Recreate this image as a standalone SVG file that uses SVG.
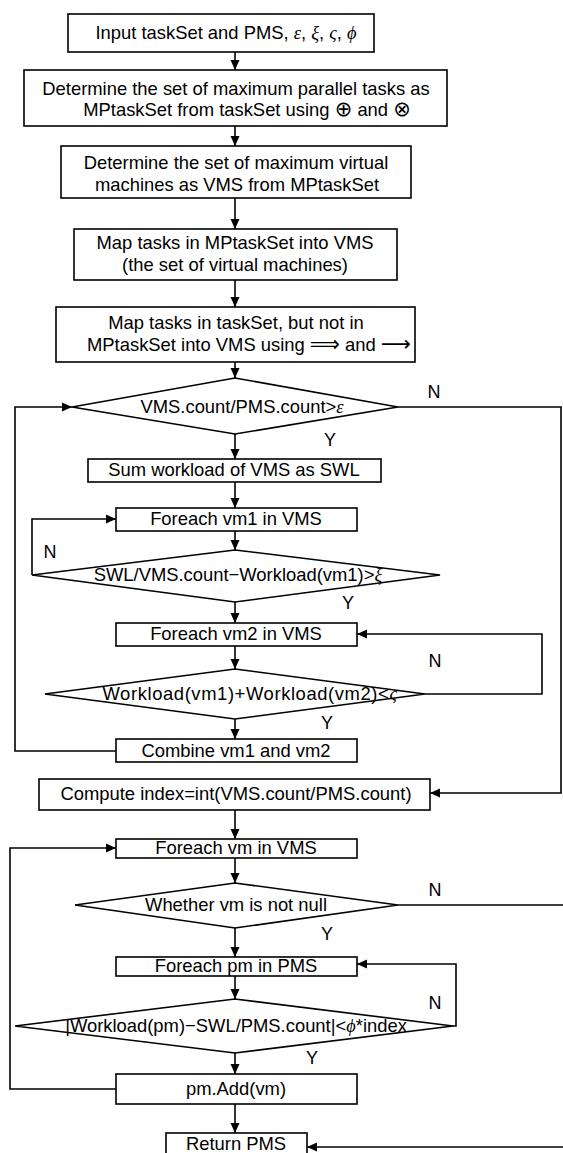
<svg xmlns="http://www.w3.org/2000/svg" width="563" height="1153" viewBox="0 0 563 1153">
  <style>
    .box { fill: #fff; stroke: #000; stroke-width: 1.6; }
    .t { font-family: "Liberation Sans", "DejaVu Sans", Arial, sans-serif; font-size: 18.4px; fill: #000; text-anchor: middle; }
    .g { font-family: "Liberation Serif", "DejaVu Serif", serif; font-style: italic; }
    .sym { font-family: "DejaVu Sans", sans-serif; font-size: 21px; }
    .lbl { font-family: "Liberation Sans", Arial, sans-serif; font-size: 18px; fill: #000; text-anchor: middle; }
    .c { fill: none; stroke: #000; stroke-width: 1.6; }
  </style>
  <defs>
    <marker id="ah" markerUnits="userSpaceOnUse" markerWidth="10" markerHeight="10" refX="10" refY="5" orient="auto">
      <path d="M0,0.5 L10,5 L0,9.5 z" fill="#000"/>
    </marker>
  </defs>
  <rect width="563" height="1153" fill="#fff"/>

  <!-- connectors -->
  <g id="connectors" class="c" marker-end="url(#ah)">
    <line x1="235" y1="52" x2="235" y2="70"/>
    <line x1="235" y1="126" x2="235" y2="146"/>
    <line x1="235" y1="198" x2="235" y2="229"/>
    <line x1="235" y1="280" x2="235" y2="307"/>
    <line x1="235" y1="362" x2="235" y2="378"/>
    <line x1="235" y1="434" x2="235" y2="459"/>
    <line x1="235" y1="482" x2="235" y2="508"/>
    <line x1="235" y1="531" x2="235" y2="550"/>
    <line x1="235" y1="602" x2="235" y2="623"/>
    <line x1="235" y1="646" x2="235" y2="669"/>
    <line x1="235" y1="719" x2="235" y2="739"/>
    <line x1="235" y1="810" x2="235" y2="839"/>
    <line x1="235" y1="858" x2="235" y2="883"/>
    <line x1="235" y1="928" x2="235" y2="957"/>
    <line x1="235" y1="976" x2="235" y2="999"/>
    <line x1="235" y1="1053" x2="235" y2="1074"/>
    <line x1="235" y1="1104" x2="235" y2="1133"/>
    <!-- loop back from combine step to first decision -->
    <polyline points="116,751 15,751 15,407 72,407"/>
    <!-- first decision N: jump to index computation -->
    <polyline points="398,407 561,407 561,793 430,793"/>
    <!-- vm1 loop -->
    <polyline points="32,575 32,519 116,519"/>
    <!-- vm2 loop -->
    <polyline points="425,694 542,694 542,634 357,634"/>
    <!-- vm loop -->
    <polyline points="116,1089 10,1089 10,848 116,848"/>
    <!-- pm loop -->
    <polyline points="453,1026 456,1026 456,964 357,964"/>
    <!-- vm null: return -->
    <line x1="398" y1="905" x2="563" y2="905" marker-end="none"/>
    <line x1="563" y1="1147" x2="307" y2="1147"/>
  </g>

  <g id="n-input">
    <rect class="box" x="68" y="14" width="306" height="38"/>
    <text class="t" x="226" y="39">Input taskSet and PMS, <tspan class="g">ε</tspan>, <tspan class="g">ξ</tspan>, <tspan class="g">ς</tspan>, <tspan class="g">ϕ</tspan></text>
  </g>
  <g id="n-mptask">
    <rect class="box" x="24" y="70" width="423" height="56"/>
    <text class="t" x="236" y="95">Determine the set of maximum parallel tasks as</text>
    <text class="t" x="247" y="116">MPtaskSet from taskSet using <tspan class="sym">⊕</tspan> and <tspan class="sym">⊗</tspan></text>
  </g>
  <g id="n-vms">
    <rect class="box" x="61" y="146" width="350" height="52"/>
    <text class="t" x="236" y="169">Determine the set of maximum virtual</text>
    <text class="t" x="237" y="191">machines as VMS from MPtaskSet</text>
  </g>
  <g id="n-map1">
    <rect class="box" x="74" y="229" width="323" height="51"/>
    <text class="t" x="235" y="249">Map tasks in MPtaskSet into VMS</text>
    <text class="t" x="235" y="271">(the set of virtual machines)</text>
  </g>
  <g id="n-map2">
    <rect class="box" x="56" y="307" width="359" height="55"/>
    <text class="t" x="236" y="329">Map tasks in taskSet, but not in</text>
    <text class="t" x="249" y="351">MPtaskSet into VMS using <tspan class="sym">⟹</tspan> and <tspan class="sym">⟶</tspan></text>
  </g>
  <g id="d-ratio">
    <polygon class="box" points="235,378 398,407 235,434 72,407"/>
    <text class="t" x="242" y="413">VMS.count/PMS.count&gt;<tspan class="g">ε</tspan></text>
    <text class="lbl" x="434" y="398">N</text>
    <text class="lbl" x="330" y="446">Y</text>
  </g>
  <g id="n-sum">
    <rect class="box" x="88" y="459" width="293" height="23"/>
    <text class="t" x="234" y="476">Sum workload of VMS as SWL</text>
  </g>
  <g id="n-vm1">
    <rect class="box" x="116" y="508" width="241" height="23"/>
    <text class="t" x="236" y="525">Foreach vm1 in VMS</text>
  </g>
  <g id="d-vm1">
    <polygon class="box" points="235,550 440,575 235,602 32,575"/>
    <text class="t" x="238" y="581">SWL/VMS.count−Workload(vm1)&gt;<tspan class="g">ξ</tspan></text>
    <text class="lbl" x="50" y="558">N</text>
    <text class="lbl" x="348" y="609">Y</text>
  </g>
  <g id="n-vm2">
    <rect class="box" x="116" y="623" width="241" height="23"/>
    <text class="t" x="236" y="640">Foreach vm2 in VMS</text>
  </g>
  <g id="d-vm2">
    <polygon class="box" points="235,669 425,694 235,719 45,694"/>
    <text class="t" x="250" y="700" letter-spacing="0.6">Workload(vm1)+Workload(vm2)&lt;<tspan class="g">ς</tspan></text>
    <text class="lbl" x="435" y="667">N</text>
    <text class="lbl" x="327" y="729">Y</text>
  </g>
  <g id="n-combine">
    <rect class="box" x="116" y="739" width="241" height="23"/>
    <text class="t" x="236" y="757">Combine vm1 and vm2</text>
  </g>
  <g id="n-index">
    <rect class="box" x="39" y="779" width="391" height="31"/>
    <text class="t" x="236" y="800">Compute index=int(VMS.count/PMS.count)</text>
  </g>
  <g id="n-vm">
    <rect class="box" x="116" y="839" width="241" height="19"/>
    <text class="t" x="236" y="854">Foreach vm in VMS</text>
  </g>
  <g id="d-null">
    <polygon class="box" points="235,883 398,905 235,928 75,905"/>
    <text class="t" x="236" y="911">Whether vm is not null</text>
    <text class="lbl" x="435" y="896">N</text>
    <text class="lbl" x="327" y="940">Y</text>
  </g>
  <g id="n-pm">
    <rect class="box" x="116" y="957" width="241" height="19"/>
    <text class="t" x="236" y="972">Foreach pm in PMS</text>
  </g>
  <g id="d-pm">
    <polygon class="box" points="235,999 453,1026 235,1053 15,1026"/>
    <text class="t" x="236" y="1032">|Workload(pm)−SWL/PMS.count|&lt;<tspan class="g">ϕ</tspan>*index</text>
    <text class="lbl" x="435" y="1009">N</text>
    <text class="lbl" x="312" y="1064">Y</text>
  </g>
  <g id="n-add">
    <rect class="box" x="116" y="1074" width="241" height="30"/>
    <text class="t" x="236" y="1095">pm.Add(vm)</text>
  </g>
  <g id="n-return">
    <rect class="box" x="166" y="1133" width="141" height="30"/>
    <text class="t" x="236" y="1150">Return PMS</text>
  </g>
</svg>
